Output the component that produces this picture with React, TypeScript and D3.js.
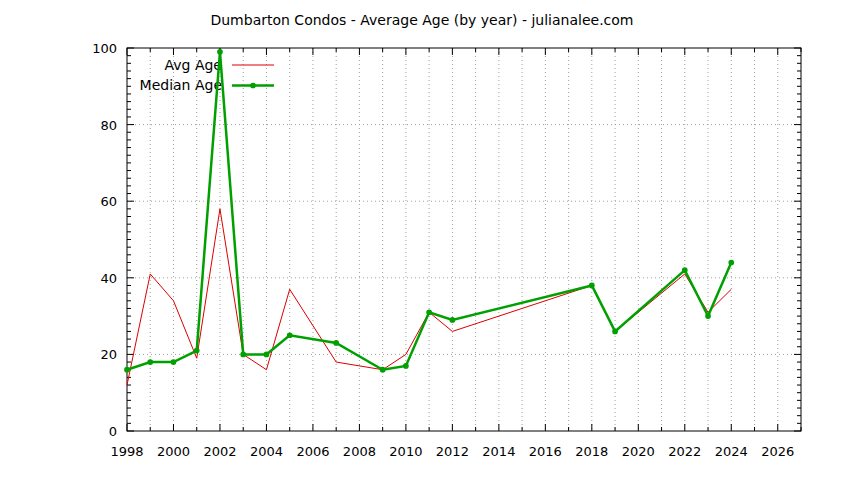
import * as d3 from "d3";

const years = [1998, 1999, 2000, 2001, 2002, 2003, 2004, 2005, 2007, 2009, 2010, 2011, 2012, 2018, 2019, 2022, 2023, 2024];
const avgAge = [12, 41, 34, 19, 58, 20, 16, 37, 18, 16, 20, 31, 26, 38, 26, 41, 31, 37];
const medianAge = [16, 18, 18, 21, 99, 20, 20, 25, 23, 16, 17, 31, 29, 38, 26, 42, 30, 44];

const xTicks = [1998, 2000, 2002, 2004, 2006, 2008, 2010, 2012, 2014, 2016, 2018, 2020, 2022, 2024, 2026];
const yTicks = [0, 20, 40, 60, 80, 100];

const W = 844;
const H = 480;
const left = 127;
const right = 801;
const top = 48;
const bottom = 431;
const font = "'DejaVu Sans', sans-serif";

export default function App() {
  const x = d3.scaleLinear().domain([1998, 2027]).range([left, right]);
  const y = d3.scaleLinear().domain([0, 100]).range([bottom, top]);

  // every year gets a grid line and a minor tick
  const minorX = d3.range(1999, 2027);

  const line = d3
    .line<number>()
    .x((_, i) => x(years[i]))
    .y((d) => y(d));

  const red = "#dd0000";
  const green = "#00a000";

  return (
    <svg width={W} height={H} style={{ position: "absolute", left: 0, top: 0, background: "#fff" }}>
      <text x={422} y={25} textAnchor="middle" fontFamily={font} fontSize={14} fill="#000">
        Dumbarton Condos - Average Age (by year) - julianalee.com
      </text>

      {/* grid */}
      {minorX.map((v) => (
        <line key={"gx" + v} x1={x(v)} x2={x(v)} y1={top} y2={bottom} stroke="#a0a0a0" strokeDasharray="1,3" />
      ))}
      {yTicks.slice(1, -1).map((v) => (
        <line key={"gy" + v} x1={left} x2={right} y1={y(v)} y2={y(v)} stroke="#a0a0a0" strokeDasharray="1,3" />
      ))}

      {/* ticks, mirrored on top and right */}
      {d3.range(1998, 2028).map((v) => {
        const len = v % 2 === 0 ? 7 : 4;
        return (
          <g key={"tx" + v}>
            <line x1={x(v)} x2={x(v)} y1={bottom} y2={bottom - len} stroke="#000" />
            <line x1={x(v)} x2={x(v)} y1={top} y2={top + len} stroke="#000" />
          </g>
        );
      })}
      {d3.range(0, 101, 2).map((v) => {
        const len = v % 20 === 0 ? 7 : 4;
        return (
          <g key={"ty" + v}>
            <line x1={left} x2={left + len} y1={y(v)} y2={y(v)} stroke="#000" />
            <line x1={right} x2={right - len} y1={y(v)} y2={y(v)} stroke="#000" />
          </g>
        );
      })}

      <rect x={left} y={top} width={right - left} height={bottom - top} fill="none" stroke="#000" />

      {xTicks.map((v) => (
        <text key={"lx" + v} x={x(v)} y={456} textAnchor="middle" fontFamily={font} fontSize={13} fill="#000">
          {v}
        </text>
      ))}
      {yTicks.map((v) => (
        <text key={"ly" + v} x={117} y={y(v) + 5} textAnchor="end" fontFamily={font} fontSize={13} fill="#000">
          {v}
        </text>
      ))}

      {/* legend */}
      <text x={222} y={70} textAnchor="end" fontFamily={font} fontSize={14} fill="#000">
        Avg Age
      </text>
      <text x={222} y={90} textAnchor="end" fontFamily={font} fontSize={14} fill="#000">
        Median Age
      </text>
      <line x1={232} x2={274} y1={65} y2={65} stroke={red} strokeWidth={1} />
      <line x1={232} x2={274} y1={85.5} y2={85.5} stroke={green} strokeWidth={2.5} />
      <circle cx={253} cy={85.5} r={2.2} fill={green} stroke={green} strokeWidth={1.3} />

      {/* series */}
      <path d={line(avgAge) ?? ""} fill="none" stroke={red} strokeWidth={1} />
      <path d={line(medianAge) ?? ""} fill="none" stroke={green} strokeWidth={2.5} />
      {medianAge.map((v, i) => (
        <circle key={"p" + i} cx={x(years[i])} cy={y(v)} r={2.2} fill={green} stroke={green} strokeWidth={1.3} />
      ))}
    </svg>
  );
}
